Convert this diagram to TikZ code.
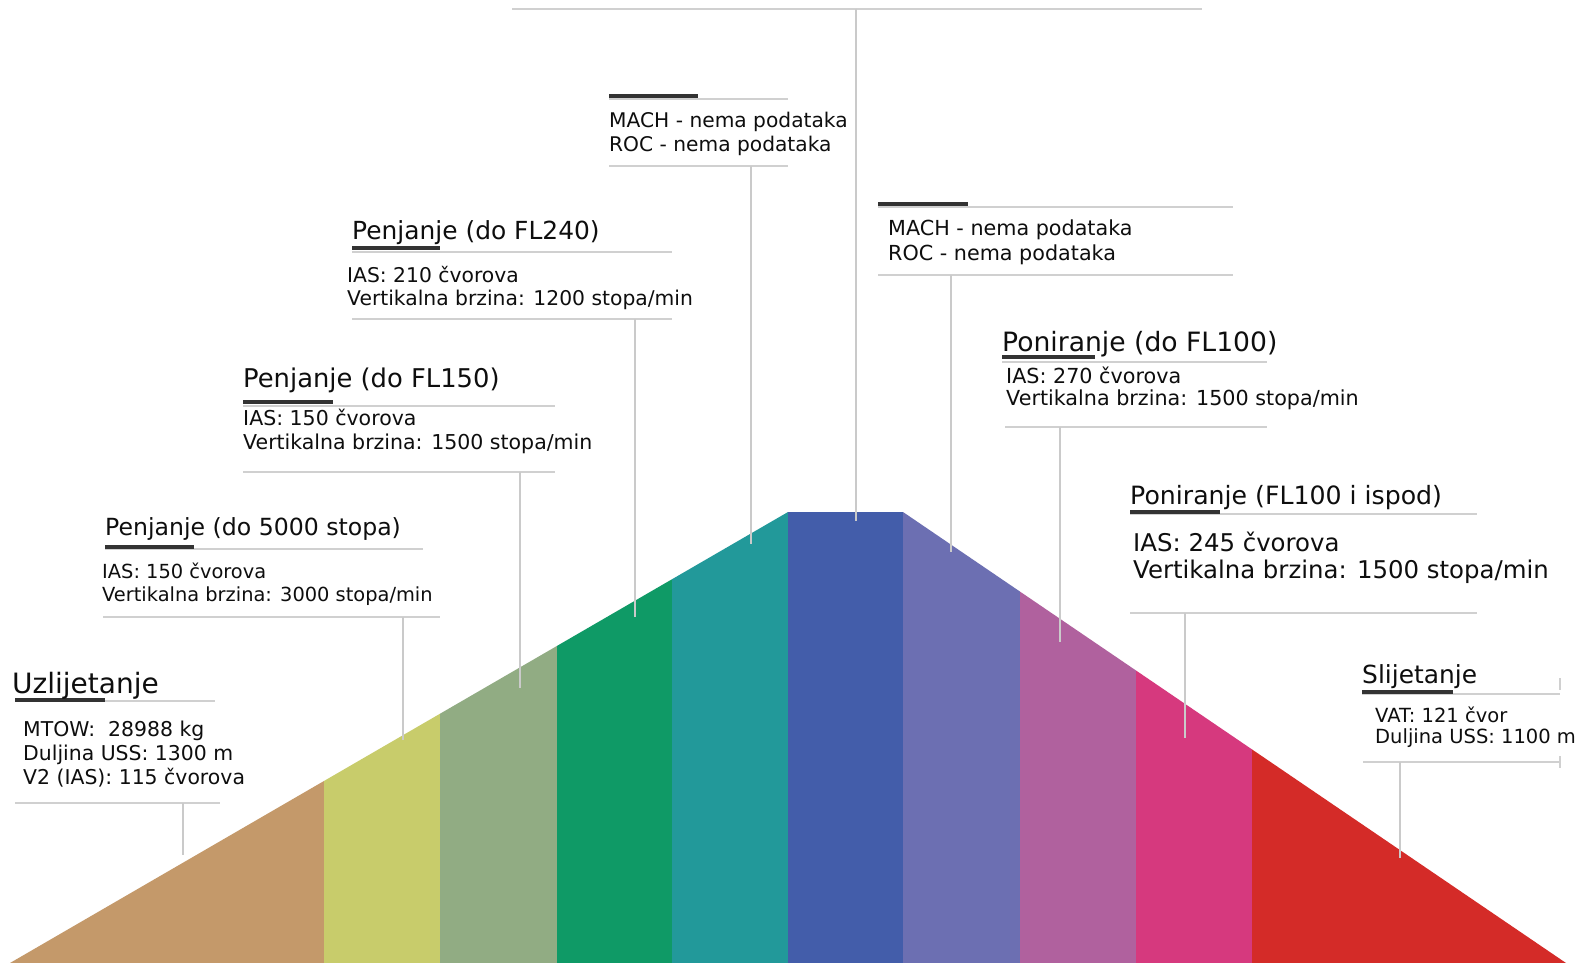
\documentclass[tikz,border=0pt]{standalone}
\usepackage{fontspec}
\setmainfont{DejaVu Sans}
\definecolor{cBrown}{HTML}{C4996A}
\definecolor{cYel}{HTML}{C8CC6B}
\definecolor{cSage}{HTML}{91AC83}
\definecolor{cGreen}{HTML}{0F9A66}
\definecolor{cTeal}{HTML}{22999A}
\definecolor{cBlue}{HTML}{435DAA}
\definecolor{cSlate}{HTML}{6C6FB2}
\definecolor{cMauve}{HTML}{B0619E}
\definecolor{cPink}{HTML}{D6397E}
\definecolor{cRed}{HTML}{D42B28}
\definecolor{cRule}{HTML}{D0D0D0}
\definecolor{cConn}{HTML}{CACACA}
\definecolor{cBar}{HTML}{333333}
\definecolor{cText}{HTML}{0E0E0E}
\newcommand{\fs}[1]{\fontsize{#1pt}{#1pt}\selectfont}
\begin{document}
\begin{tikzpicture}[x=1pt,y=-1pt,
  ttl/.style={anchor=base west,inner sep=0pt,text=cText},
  body/.style={anchor=base west,inner sep=0pt,text=cText},
  bar/.style={draw=cBar,line width=4.5pt},
  rule/.style={draw=cRule,line width=1.6pt},
  conn/.style={draw=cConn,line width=2pt}]
\useasboundingbox (0,0) rectangle (1579,963);
\fill[white] (0,0) rectangle (1579,963);
\clip (0,0) rectangle (1579,963);
% bands
\begin{scope}
\clip (10,963) -- (788,512) -- (903,512) -- (1566,963) -- cycle;
\fill[cBrown] (0,500) rectangle (324,963);
\fill[cYel] (324,500) rectangle (440,963);
\fill[cSage] (440,500) rectangle (557,963);
\fill[cGreen] (557,500) rectangle (672,963);
\fill[cTeal] (672,500) rectangle (788,963);
\fill[cBlue] (788,500) rectangle (903,963);
\fill[cSlate] (903,500) rectangle (1020,963);
\fill[cMauve] (1020,500) rectangle (1136,963);
\fill[cPink] (1136,500) rectangle (1252,963);
\fill[cRed] (1252,500) rectangle (1579,963);
\end{scope}
% top line and central connector
\draw[rule] (512,9) -- (1202,9);
\coordinate (T0) at (856,9);
\coordinate (T1) at (856,521);
\draw[conn] (T0) -- (T1);
% A Uzlijetanje
\draw[rule] (15,701) -- (215,701);
\draw[bar] (15,700) -- (105,700);
\node[ttl,font=\fs{28}] (tA) at (12,693) {Uzlijetanje};
\node[body,font=\fs{20.4}] (a1) at (23,736) {MTOW:~~28988 kg};
\node[body,font=\fs{20.4}] (a2) at (23,760) {Duljina USS: 1300 m};
\node[body,font=\fs{20.4}] (a3) at (23,784) {V2 (IAS): 115 čvorova};
\draw[rule] (15,803) -- (220,803);
\coordinate (A0) at (183,803);
\coordinate (A1) at (183,855);
\draw[conn] (A0) -- (A1);
% B Penjanje do 5000
\draw[rule] (105,549) -- (423,549);
\draw[bar] (105,547) -- (194,547);
\node[ttl,font=\fs{23.6}] (tB) at (105,535) {Penjanje (do 5000 stopa)};
\node[body,font=\fs{19.4}] (b1) at (102,578) {IAS: 150 čvorova};
\node[body,font=\fs{19.4}] (b2) at (102,601) {Vertikalna brzina: 3000 stopa/min};
\draw[rule] (103,617) -- (440,617);
\coordinate (B0) at (403,617);
\coordinate (B1) at (403,740);
\draw[conn] (B0) -- (B1);
% C Penjanje do FL150
\draw[rule] (243,406) -- (555,406);
\draw[bar] (243,402) -- (333,402);
\node[ttl,font=\fs{25.8}] (tC) at (243,387) {Penjanje (do FL150)};
\node[body,font=\fs{20.5}] (c1) at (243,425) {IAS: 150 čvorova};
\node[body,font=\fs{20.5}] (c2) at (243,449) {Vertikalna brzina: 1500 stopa/min};
\draw[rule] (243,472) -- (555,472);
\coordinate (C0) at (520,472);
\coordinate (C1) at (520,688);
\draw[conn] (C0) -- (C1);
% D Penjanje do FL240
\draw[rule] (352,252) -- (672,252);
\draw[bar] (352,248) -- (440,248);
\node[ttl,font=\fs{24.9}] (tD) at (352,239) {Penjanje (do FL240)};
\node[body,font=\fs{20.3}] (d1) at (347,282) {IAS: 210 čvorova};
\node[body,font=\fs{20.3}] (d2) at (347,305) {Vertikalna brzina: 1200 stopa/min};
\draw[rule] (352,319) -- (672,319);
\coordinate (D0) at (635,319);
\coordinate (D1) at (635,617);
\draw[conn] (D0) -- (D1);
% E MACH left
\draw[rule] (609,99) -- (788,99);
\draw[bar] (609,96) -- (698,96);
\node[body,font=\fs{20.2}] (e1) at (609,128) {MACH - nema podataka};
\node[body,font=\fs{20.2}] (e2) at (609,152) {ROC - nema podataka};
\draw[rule] (609,166) -- (788,166);
\coordinate (E0) at (751,166);
\coordinate (E1) at (751,544);
\draw[conn] (E0) -- (E1);
% F MACH right
\draw[rule] (878,207) -- (1233,207);
\draw[bar] (878,204) -- (968,204);
\node[body,font=\fs{20.7}] (f1) at (888,235) {MACH - nema podataka};
\node[body,font=\fs{20.7}] (f2) at (888,260) {ROC - nema podataka};
\draw[rule] (878,275) -- (1233,275);
\coordinate (F0) at (951,275);
\coordinate (F1) at (951,552);
\draw[conn] (F0) -- (F1);
% G Poniranje do FL100
\draw[rule] (1002,362) -- (1267,362);
\draw[bar] (1002,357) -- (1095,357);
\node[ttl,font=\fs{26.6}] (tG) at (1002,351) {Poniranje (do FL100)};
\node[body,font=\fs{20.7}] (g1) at (1006,383) {IAS: 270 čvorova};
\node[body,font=\fs{20.7}] (g2) at (1006,405) {Vertikalna brzina: 1500 stopa/min};
\draw[rule] (1005,427) -- (1267,427);
\coordinate (G0) at (1060,427);
\coordinate (G1) at (1060,642);
\draw[conn] (G0) -- (G1);
% H Poniranje FL100 i ispod
\draw[rule] (1130,514) -- (1477,514);
\draw[bar] (1130,512) -- (1220,512);
\node[ttl,font=\fs{25.2}] (tH) at (1130,504) {Poniranje (FL100 i ispod)};
\node[body,font=\fs{24.4}] (h1) at (1133,551) {IAS: 245 čvorova};
\node[body,font=\fs{24.4}] (h2) at (1133,578) {Vertikalna brzina: 1500 stopa/min};
\draw[rule] (1130,613) -- (1477,613);
\coordinate (H0) at (1185,613);
\coordinate (H1) at (1185,738);
\draw[conn] (H0) -- (H1);
% I Slijetanje
\draw[rule] (1362,694) -- (1560,694);
\draw[bar] (1362,692) -- (1453,692);
\node[ttl,font=\fs{24.9}] (tI) at (1362,683) {Slijetanje};
\node[body,font=\fs{19.5}] (i1) at (1375,722) {VAT: 121 čvor};
\node[body,font=\fs{19.5}] (i2) at (1375,743) {Duljina USS: 1100 m};
\draw[rule] (1363,762) -- (1560,762);
\draw[rule] (1560,678) -- (1560,690);
\draw[rule] (1560,756) -- (1560,768);
\coordinate (I0) at (1400,762);
\coordinate (I1) at (1400,858);
\draw[conn] (I0) -- (I1);
\end{tikzpicture}
\end{document}
